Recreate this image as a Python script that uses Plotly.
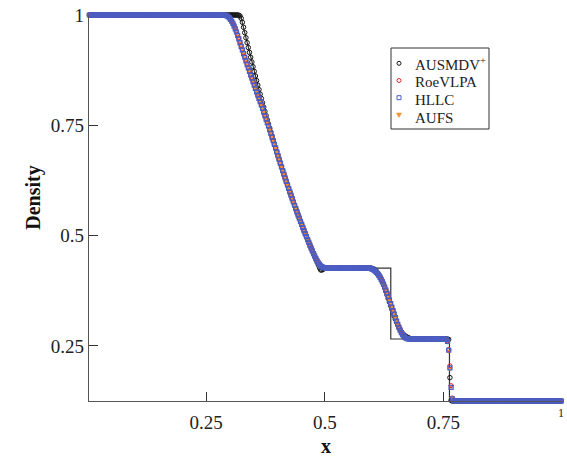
import numpy as np
import plotly.graph_objects as go

# ---------------- data ----------------
N_CELLS = 400
x_cells = (np.arange(N_CELLS) + 0.5) / N_CELLS   # cell centres of the 400-cell mesh

# exact Riemann solution (breakpoints)
exact_x = [0.0, 0.3225, 0.33, 0.34, 0.36, 0.38, 0.40, 0.42, 0.44, 0.46, 0.48, 0.4895,
           0.6391, 0.6391, 0.7628, 0.7628, 1.0]
exact_rho = [1.0, 1.0, 0.9653, 0.9206, 0.8360, 0.7577, 0.6855, 0.6188, 0.5574, 0.5010,
             0.4492, 0.4263, 0.4263, 0.2656, 0.2656, 0.125, 0.125]

RHO_L, RHO_STAR_L, RHO_STAR_R, RHO_R = 1.0, 0.4263, 0.2656, 0.125

# cells 113..199 (rarefaction)
hllc_rare = [1.0, 0.9999, 0.9996, 0.9990, 0.9978, 0.9960, 0.9934, 0.9900, 0.9858, 0.9808,
             0.9750, 0.9685, 0.9615, 0.9540, 0.9460, 0.9373, 0.9290, 0.9207, 0.9125, 0.9042,
             0.8962, 0.8882, 0.8802, 0.8722, 0.8643, 0.8566, 0.8488, 0.8411, 0.8335, 0.8259,
             0.8183, 0.8109, 0.8035, 0.7961, 0.7880, 0.7799, 0.7720, 0.7641, 0.7562, 0.7484,
             0.7399, 0.7316, 0.7232, 0.7149, 0.7067, 0.6987, 0.6899, 0.6812, 0.6725, 0.6641,
             0.6557, 0.6474, 0.6391, 0.6310, 0.6229, 0.6149, 0.6069, 0.5992, 0.5915, 0.5838,
             0.5761, 0.5687, 0.5613, 0.5539, 0.5465, 0.5394, 0.5323, 0.5252, 0.5182, 0.5114,
             0.5046, 0.4978, 0.4910, 0.4845, 0.4780, 0.4716, 0.4653, 0.4592, 0.4533, 0.4478,
             0.4428, 0.4384, 0.4346, 0.4316, 0.4294, 0.4279, 0.4270]
roe_rare = [1.0, 0.9999, 0.9997, 0.9992, 0.9982, 0.9966, 0.9942, 0.9910, 0.9870, 0.9822,
            0.9766, 0.9702, 0.9632, 0.9557, 0.9477, 0.9392, 0.9306, 0.9222, 0.9138, 0.9055,
            0.8973, 0.8892, 0.8811, 0.8731, 0.8651, 0.8572, 0.8494, 0.8416, 0.8339, 0.8262,
            0.8186, 0.8111, 0.8036, 0.7961, 0.7880, 0.7799, 0.7720, 0.7641, 0.7562, 0.7484,
            0.7399, 0.7316, 0.7232, 0.7149, 0.7067, 0.6987, 0.6899, 0.6812, 0.6725, 0.6641,
            0.6557, 0.6474, 0.6391, 0.6310, 0.6229, 0.6149, 0.6069, 0.5992, 0.5915, 0.5838,
            0.5761, 0.5687, 0.5613, 0.5539, 0.5465, 0.5394, 0.5323, 0.5252, 0.5182, 0.5114,
            0.5046, 0.4978, 0.4910, 0.4846, 0.4782, 0.4719, 0.4657, 0.4597, 0.4539, 0.4484,
            0.4433, 0.4388, 0.4349, 0.4318, 0.4295, 0.4280, 0.4271]
aufs_rare = [1.0, 0.9998, 0.9994, 0.9987, 0.9974, 0.9954, 0.9926, 0.9890, 0.9846, 0.9794,
             0.9734, 0.9668, 0.9597, 0.9522, 0.9442, 0.9357, 0.9275, 0.9193, 0.9112, 0.9030,
             0.8951, 0.8872, 0.8793, 0.8714, 0.8636, 0.8559, 0.8482, 0.8406, 0.8331, 0.8256,
             0.8181, 0.8107, 0.8034, 0.7960, 0.7880, 0.7799, 0.7720, 0.7641, 0.7562, 0.7484,
             0.7399, 0.7316, 0.7232, 0.7149, 0.7067, 0.6987, 0.6899, 0.6812, 0.6725, 0.6641,
             0.6557, 0.6474, 0.6391, 0.6310, 0.6229, 0.6149, 0.6069, 0.5992, 0.5915, 0.5838,
             0.5761, 0.5687, 0.5613, 0.5539, 0.5465, 0.5394, 0.5323, 0.5252, 0.5182, 0.5114,
             0.5046, 0.4978, 0.4910, 0.4844, 0.4779, 0.4714, 0.4651, 0.4590, 0.4531, 0.4476,
             0.4426, 0.4382, 0.4344, 0.4314, 0.4293, 0.4278, 0.4270]
ausmdv_rare = [1.0, 1.0, 1.0, 1.0, 1.0, 1.0, 1.0, 1.0, 1.0, 1.0,
               1.0, 1.0, 1.0, 0.9999, 0.9995, 0.9978, 0.9925, 0.9835, 0.9722, 0.9600,
               0.9484, 0.9373, 0.9262, 0.9152, 0.9042, 0.8935, 0.8828, 0.8722, 0.8617, 0.8514,
               0.8411, 0.8309, 0.8208, 0.8109, 0.8010, 0.7912, 0.7815, 0.7720, 0.7625, 0.7531,
               0.7437, 0.7346, 0.7255, 0.7164, 0.7074, 0.6987, 0.6899, 0.6812, 0.6725, 0.6641,
               0.6557, 0.6474, 0.6391, 0.6310, 0.6229, 0.6149, 0.6069, 0.5992, 0.5915, 0.5838,
               0.5761, 0.5687, 0.5613, 0.5539, 0.5465, 0.5394, 0.5323, 0.5252, 0.5182, 0.5114,
               0.5046, 0.4978, 0.4910, 0.4845, 0.4780, 0.4715, 0.4651, 0.4589, 0.4527, 0.4464,
               0.4402, 0.4338, 0.4272, 0.4222, 0.4218, 0.4235, 0.4252]

# cells 236..273 (contact discontinuity)
hllc_contact = [0.4263, 0.4261, 0.4256, 0.4246, 0.4232, 0.4214, 0.4192, 0.4165, 0.4134, 0.4098,
                0.4057, 0.4010, 0.3957, 0.3898, 0.3834, 0.3765, 0.3692, 0.3616, 0.3538, 0.3459,
                0.3380, 0.3300, 0.3220, 0.3141, 0.3064, 0.2990, 0.2920, 0.2856, 0.2800, 0.2754,
                0.2718, 0.2692, 0.2675, 0.2665, 0.2660, 0.2658, 0.2657, 0.2656]
roe_contact = [0.4263, 0.4262, 0.4257, 0.4248, 0.4235, 0.4217, 0.4195, 0.4168, 0.4137, 0.4101,
               0.4060, 0.4013, 0.3960, 0.3901, 0.3836, 0.3766, 0.3692, 0.3615, 0.3536, 0.3456,
               0.3376, 0.3296, 0.3216, 0.3137, 0.3060, 0.2987, 0.2918, 0.2855, 0.2799, 0.2753,
               0.2717, 0.2691, 0.2674, 0.2665, 0.2660, 0.2658, 0.2657, 0.2656]
aufs_contact = [0.4263, 0.4260, 0.4254, 0.4244, 0.4229, 0.4211, 0.4189, 0.4162, 0.4131, 0.4095,
                0.4054, 0.4007, 0.3954, 0.3895, 0.3831, 0.3762, 0.3690, 0.3614, 0.3537, 0.3459,
                0.3381, 0.3302, 0.3223, 0.3145, 0.3068, 0.2994, 0.2924, 0.2859, 0.2802, 0.2756,
                0.2720, 0.2693, 0.2676, 0.2666, 0.2661, 0.2658, 0.2657, 0.2656]
ausmdv_contact = [0.4263, 0.4263, 0.4262, 0.4258, 0.4250, 0.4237, 0.4218, 0.4192, 0.4159, 0.4118,
                  0.4070, 0.4015, 0.3953, 0.3885, 0.3812, 0.3735, 0.3655, 0.3573, 0.3491, 0.3410,
                  0.3330, 0.3252, 0.3177, 0.3105, 0.3037, 0.2975, 0.2918, 0.2868, 0.2824, 0.2787,
                  0.2756, 0.2731, 0.2712, 0.2697, 0.2683, 0.2671, 0.2662, 0.2657]

# cells 300..309 (shock)
hllc_shock = [0.2655, 0.2652, 0.2645, 0.2600, 0.2400, 0.2000, 0.1560, 0.1300, 0.1256, 0.1251]
roe_shock = [0.2655, 0.2653, 0.2647, 0.2610, 0.2420, 0.2050, 0.1600, 0.1320, 0.1258, 0.1251]
aufs_shock = [0.2655, 0.2652, 0.2644, 0.2590, 0.2380, 0.1980, 0.1580, 0.1310, 0.1257, 0.1251]
ausmdv_shock = [0.2656, 0.2656, 0.2655, 0.2652, 0.2645, 0.1780, 0.1262, 0.1250, 0.1250, 0.1250]

x_tick_vals = [0.25, 0.5, 0.75, 1.0]
x_tick_text = ["0.25", "0.5", "0.75", ""]
y_tick_vals = [0.25, 0.5, 0.75, 1.0]
y_tick_text = ["0.25", "0.5", "0.75", "1"]

legend_names = ["AUSMDV<sup>+</sup>", "RoeVLPA", "HLLC", "AUFS"]


def assemble(rare, contact, shock):
    rho = ([RHO_L] * 113 + rare + [RHO_STAR_L] * 36 + contact +
           [RHO_STAR_R] * 26 + shock + [RHO_R] * 90)
    assert len(rho) == N_CELLS
    return rho


rho_ausmdv = assemble(ausmdv_rare, ausmdv_contact, ausmdv_shock)
rho_roe = assemble(roe_rare, roe_contact, roe_shock)
rho_hllc = assemble(hllc_rare, hllc_contact, hllc_shock)
rho_aufs = assemble(aufs_rare, aufs_contact, aufs_shock)

SERIF = "Liberation Serif"
C_BLACK, C_RED, C_BLUE, C_ORANGE = "#141414", "#e3262a", "#4a5ec4", "#f6922f"

fig = go.Figure()
fig.add_trace(go.Scatter(x=exact_x, y=exact_rho, mode="lines",
                         line=dict(color="#333333", width=1.2),
                         showlegend=False, hoverinfo="skip"))
fig.add_trace(go.Scatter(x=x_cells, y=rho_ausmdv, mode="markers", name=legend_names[0],
                         showlegend=False, cliponaxis=False,
                         marker=dict(symbol="circle-open", size=4.5, color=C_BLACK,
                                     line=dict(width=1))))
fig.add_trace(go.Scatter(x=x_cells, y=rho_aufs, mode="markers", name=legend_names[3],
                         showlegend=False, cliponaxis=False,
                         marker=dict(symbol="triangle-down", size=5.5, color=C_ORANGE)))
fig.add_trace(go.Scatter(x=x_cells, y=rho_roe, mode="markers", name=legend_names[1],
                         showlegend=False, cliponaxis=False,
                         marker=dict(symbol="circle-open", size=4, color=C_RED,
                                     line=dict(width=1))))
fig.add_trace(go.Scatter(x=x_cells, y=rho_hllc, mode="markers", name=legend_names[2],
                         showlegend=False, cliponaxis=False,
                         marker=dict(symbol="square-open", size=4, color=C_BLUE,
                                     line=dict(width=1.2))))

axis_common = dict(showline=True, linecolor="#555555", linewidth=1.3, ticks="inside",
                   ticklen=9, tickwidth=1.3, tickcolor="#333333", showgrid=False,
                   zeroline=False, mirror=False, ticklabeloverflow="allow",
                   tickfont=dict(family=SERIF, size=19, color="#222222"))


# ---- hand-built legend box (matches the compact legend of the original) ----
# plot area: x 89..562 px, y 15..401 px  -> paper coordinates
def px_to_paper_x(px):
    return (px - 89) / 473.0


def px_to_paper_y(py):
    return (401 - py) / 386.0


LEG_BOX_PX = (391, 489, 48, 129)
TEXT_ROWS_PX = [63.8, 81.7, 100.0, 117.7]
SYM_ROWS_PX = [63.3, 80.5, 97.7, 115.0]
SYM_X_PX, TEXT_X_PX = 399, 413

shapes = [dict(type="rect", xref="paper", yref="paper",
               x0=px_to_paper_x(LEG_BOX_PX[0]), x1=px_to_paper_x(LEG_BOX_PX[1]),
               y0=px_to_paper_y(LEG_BOX_PX[3]), y1=px_to_paper_y(LEG_BOX_PX[2]),
               line=dict(color="#333333", width=1), fillcolor="white", layer="above")]
sym_specs = [("circle", C_BLACK), ("circle", C_RED), ("rect", C_BLUE), ("tri", C_ORANGE)]
for (kind, col), py in zip(sym_specs, SYM_ROWS_PX):
    common = dict(xref="paper", yref="paper", xsizemode="pixel", ysizemode="pixel",
                  xanchor=px_to_paper_x(SYM_X_PX), yanchor=px_to_paper_y(py), layer="above")
    if kind == "tri":
        shapes.append(dict(type="path", path="M-2.6,2 L2.6,2 L0,-2.6 Z",
                           line=dict(color=col, width=0.5), fillcolor=col, **common))
    else:
        shapes.append(dict(type=kind, x0=-2, x1=2, y0=-2, y1=2,
                           line=dict(color=col, width=1), fillcolor="rgba(0,0,0,0)",
                           **common))

annotations = [
    dict(text="<b>Density</b>", xref="paper", yref="paper", x=0, y=px_to_paper_y(198.3),
         xshift=-69, textangle=-90, showarrow=False,
         font=dict(family=SERIF, size=20, color="#111111")),
    dict(text="<b>x</b>", xref="paper", yref="paper", x=0.5, y=0, yanchor="bottom",
         yshift=-58, showarrow=False, font=dict(family=SERIF, size=20, color="#111111")),
    dict(text="1", xref="x", yref="paper", x=1.0, y=0, yanchor="middle", xanchor="center",
         yshift=-12, xshift=-1, showarrow=False,
         font=dict(family=SERIF, size=12, color="#222222")),
]
for name, py in zip(legend_names, TEXT_ROWS_PX):
    annotations.append(dict(text=name, xref="paper", yref="paper",
                            x=px_to_paper_x(TEXT_X_PX), y=px_to_paper_y(py),
                            xanchor="left", yanchor="middle", showarrow=False,
                            font=dict(family=SERIF, size=15, color="#222222")))

fig.update_layout(
    width=567, height=457,
    margin=dict(l=89, r=5, t=15, b=56),
    paper_bgcolor="white", plot_bgcolor="white",
    xaxis=dict(range=[0.003, 1.0], tickvals=x_tick_vals, ticktext=x_tick_text,
               ticklabelstandoff=4, **axis_common),
    yaxis=dict(range=[0.125, 1.0], tickvals=y_tick_vals, ticktext=y_tick_text, **axis_common),
    showlegend=False,
    shapes=shapes,
    annotations=annotations,
)

# remove the browser's default 8 px body margin so the figure fills the window exactly
fig.write_html("out.html", config={"displayModeBar": False},
               post_script="document.body.style.margin='0';document.body.style.overflow='hidden';")
